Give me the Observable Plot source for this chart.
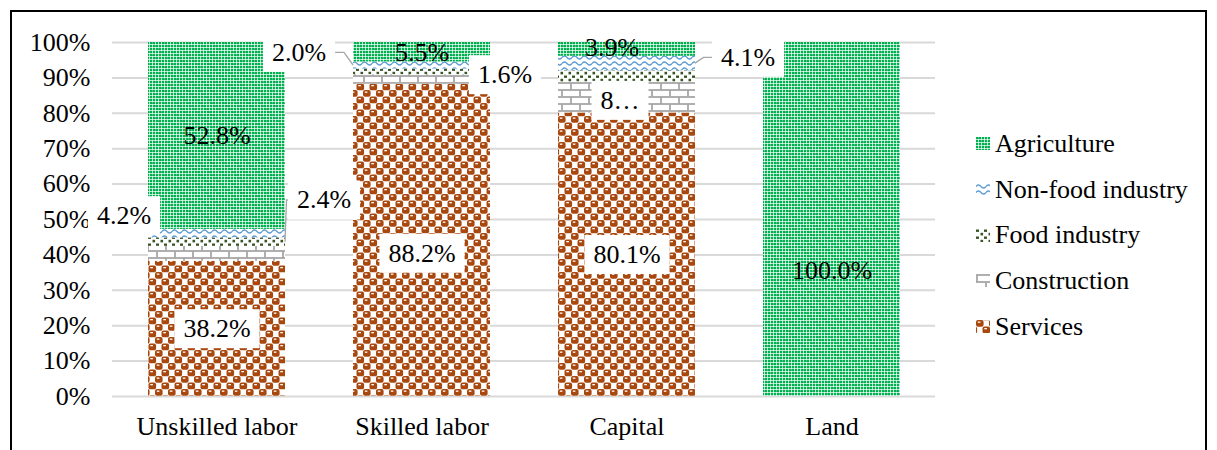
<!DOCTYPE html>
<html>
<head>
<meta charset="utf-8">
<script src="https://cdn.jsdelivr.net/npm/d3@7"></script>
<script src="https://cdn.jsdelivr.net/npm/@observablehq/plot@0.6"></script>
<style>
  html, body { margin: 0; padding: 0; background: #fff; }
  body { font-family: "Liberation Serif", "Tinos", "Times New Roman", "DejaVu Serif", serif; }
  #frame { position: absolute; left: 10px; top: 10px; width: 1193px; height: 446px; border: 2px solid #000; }
  #chart { position: absolute; left: 0; top: 0; }
  #legend { position: absolute; left: 964px; top: 109px; }
  .lg-row { display: flex; align-items: center; height: 45.7px; font-size: 26px; color: #000; white-space: nowrap; }
  .lg-row svg { margin-right: 5px; flex: none; }
</style>
</head>
<body>
<svg width="0" height="0" style="position:absolute">
  <defs>
    <pattern id="pAgri" patternUnits="userSpaceOnUse" width="12" height="12">
      <rect width="12" height="12" fill="#fff"/>
      <g fill="#00B050">
        <rect x="0" y="0" width="2.3" height="2.3"/><rect x="3" y="0" width="2.3" height="2.3"/><rect x="6" y="0" width="2.3" height="2.3"/><rect x="9" y="0" width="2.3" height="2.3"/>
        <rect x="0" y="3" width="2.3" height="2.3"/><rect x="3" y="3" width="2.3" height="2.3"/><rect x="6" y="3" width="2.3" height="2.3"/><rect x="9" y="3" width="2.3" height="2.3"/>
        <rect x="0" y="6" width="2.3" height="2.3"/><rect x="3" y="6" width="2.3" height="2.3"/><rect x="6" y="6" width="2.3" height="2.3"/><rect x="9" y="6" width="2.3" height="2.3"/>
        <rect x="0" y="9" width="2.3" height="2.3"/><rect x="3" y="9" width="2.3" height="2.3"/><rect x="6" y="9" width="2.3" height="2.3"/><rect x="9" y="9" width="2.3" height="2.3"/>
        <rect x="2" y="0.5" width="1.2" height="1.2"/><rect x="8" y="6.5" width="1.2" height="1.2"/>
        <rect x="5" y="3.5" width="1.2" height="1.2"/><rect x="11" y="9.5" width="1.2" height="1.2"/>
      </g>
    </pattern>
    <pattern id="pNonFood" patternUnits="userSpaceOnUse" width="10" height="6">
      <rect width="10" height="6" fill="#fff"/>
      <path d="M0,3.5 Q2.5,0.5 5,3.5 T10,3.5" fill="none" stroke="#5B9BD5" stroke-width="1.3"/>
    </pattern>
    <pattern id="pFood" patternUnits="userSpaceOnUse" width="8" height="7">
      <rect width="8" height="7" fill="#fff"/>
      <g fill="#375623">
        <rect x="0" y="0.5" width="3" height="2.4"/>
        <rect x="4.5" y="3.8" width="2.6" height="2.6"/>
      </g>
    </pattern>
    <pattern id="pCons" patternUnits="userSpaceOnUse" width="18" height="14">
      <rect width="18" height="14" fill="#fff"/>
      <g stroke="#A6A6A6" stroke-width="1.8" fill="none">
        <line x1="0" y1="1" x2="18" y2="1"/>
        <line x1="0" y1="8" x2="18" y2="8"/>
        <line x1="1" y1="1" x2="1" y2="8"/>
        <line x1="10" y1="8" x2="10" y2="14"/>
      </g>
    </pattern>
    <pattern id="pServ" patternUnits="userSpaceOnUse" width="13" height="13">
      <rect width="13" height="13" fill="#fff"/>
      <g fill="#A8470E">
        <rect x="0" y="0" width="7.6" height="6.8" rx="2"/>
        <rect x="6.5" y="6.5" width="7.6" height="6.8" rx="2"/>
        <rect x="-6.5" y="6.5" width="7.6" height="6.8" rx="2"/>
        <rect x="0" y="13" width="7.6" height="6.8" rx="2"/>
        <rect x="6.5" y="-6.5" width="7.6" height="6.8" rx="2"/>
      </g>
      <g fill="#fff">
        <rect x="1.8" y="1.5" width="2.6" height="1.3"/>
        <rect x="8.3" y="8" width="2.6" height="1.3"/>
      </g>
    </pattern>
  </defs>
</svg>
<div id="frame">
  <div id="chart"></div>
  <div id="legend"></div>
</div>
<script>
// ---- data ----
const factors = ["Unskilled labor", "Skilled labor", "Capital", "Land"];
const sectors = ["Services", "Construction", "Food industry", "Non-food industry", "Agriculture"];
const services        = [38.2, 88.2, 80.1, 0];
const construction    = [4.2, 2.7, 8.7, 0];
const foodIndustry    = [2.4, 1.6, 3.2, 0];
const nonFoodIndustry = [2.4, 2.0, 4.1, 0];
const agriculture     = [52.8, 5.5, 3.9, 100.0];
const yTicks = [0, 10, 20, 30, 40, 50, 60, 70, 80, 90, 100];
const legendOrder = ["Agriculture", "Non-food industry", "Food industry", "Construction", "Services"];
// data labels that are shown [factor, sector]
const shownLabels = [
  ["Unskilled labor", "Services"], ["Unskilled labor", "Agriculture"],
  ["Unskilled labor", "Construction"], ["Unskilled labor", "Food industry"],
  ["Skilled labor", "Services"], ["Skilled labor", "Agriculture"],
  ["Skilled labor", "Non-food industry"], ["Skilled labor", "Food industry"],
  ["Capital", "Services"], ["Capital", "Construction"], ["Capital", "Agriculture"],
  ["Capital", "Non-food industry"],
  ["Land", "Agriculture"]
];

// ---- styles (not data) ----
const FONT = "'Liberation Serif', Tinos, 'Times New Roman', 'DejaVu Serif', serif";
const patternOf = {
  "Services": "pServ", "Construction": "pCons", "Food industry": "pFood",
  "Non-food industry": "pNonFood", "Agriculture": "pAgri"
};
const labelStyle = {
  "Unskilled labor|Services": {dx: 0, dy: 0, box: true},
  "Unskilled labor|Agriculture": {dx: 0, dy: 0, box: false},
  "Unskilled labor|Construction": {dx: -93, dy: -38, box: true},
  "Unskilled labor|Food industry": {dx: 107, dy: -42, box: true, leader: true},
  "Skilled labor|Services": {dx: 0, dy: 13, box: true},
  "Skilled labor|Agriculture": {dx: 0, dy: 0, box: false},
  "Skilled labor|Non-food industry": {dx: -123, dy: -13, box: true, leader: true},
  "Skilled labor|Food industry": {dx: 83, dy: 3, box: true},
  "Capital|Services": {dx: 0, dy: 0, box: true},
  "Capital|Construction": {dx: -7, dy: 3, box: true, truncate: true},
  "Capital|Agriculture": {dx: -15, dy: -2, box: false},
  "Capital|Non-food industry": {dx: 121, dy: -6, box: true, leader: true},
  "Land|Agriculture": {dx: 0, dy: 51, box: false}
};

const seriesBySector = {
  "Services": services, "Construction": construction, "Food industry": foodIndustry,
  "Non-food industry": nonFoodIndustry, "Agriculture": agriculture
};
const data = [];
factors.forEach((f, i) => {
  let base = 0;
  sectors.forEach(s => {
    const v = seriesBySector[s][i];
    data.push({factor: f, sector: s, value: v, mid: base + v / 2});
    base += v;
  });
});

const labelInfo = new Map(); // text -> {datum, style}
const labelMarks = shownLabels.map(([f, s]) => {
  const d = data.find(r => r.factor === f && r.sector === s);
  const st = labelStyle[f + "|" + s];
  const txt = st.truncate ? String(d.value)[0] + "\u2026" : d.value.toFixed(1) + "%";
  labelInfo.set(txt, {d, st});
  return Plot.text([d], {
    x: "factor", y: "mid", text: () => txt,
    dx: st.dx, dy: st.dy, fontSize: 26, fill: "#000",
    fontFamily: FONT
  });
});

const chart = Plot.plot({
  width: 1193, height: 438,
  marginLeft: 100, marginRight: 270, marginTop: 30, marginBottom: 54,
  style: {fontFamily: FONT, fontSize: "26px", color: "#000", background: "transparent", overflow: "visible"},
  x: {domain: factors, paddingInner: 0.334, paddingOuter: 0.167, label: null, tickSize: 0, tickPadding: 20},
  y: {domain: [0, 100], ticks: yTicks, tickFormat: d => d + "%", label: null, tickSize: 0, tickPadding: 22},
  color: {domain: sectors, range: sectors.map(s => `url(#${patternOf[s]})`)},
  marks: [
    Plot.ruleY(yTicks, {stroke: "#d9d9d9", strokeWidth: 2}),
    Plot.barY(data, {x: "factor", y: "value", fill: "sector", z: "sector"}),
    ...labelMarks
  ]
});
document.getElementById("chart").appendChild(chart);

const xs = chart.scale("x"), ys = chart.scale("y");
const NS = "http://www.w3.org/2000/svg";
const leaderG = document.createElementNS(NS, "g");
leaderG.setAttribute("fill", "none");
leaderG.setAttribute("stroke", "#A6A6A6");
leaderG.setAttribute("stroke-width", "1.3");
chart.appendChild(leaderG);
const svgRect = chart.getBoundingClientRect();

// white boxes behind boxed labels, plus leader lines for outside labels
chart.querySelectorAll('text').forEach(t => {
  if (t.closest('g[aria-label*="axis"]')) return;
  const info = labelInfo.get(t.textContent);
  if (!info || !info.st.box) return;
  const b = t.getBBox();
  const r = document.createElementNS(NS, "rect");
  const tr = t.getAttribute("transform");
  if (tr) r.setAttribute("transform", tr);
  r.setAttribute("x", b.x - 9);
  r.setAttribute("y", b.y - 5);
  r.setAttribute("width", b.width + 18);
  r.setAttribute("height", b.height + 10);
  r.setAttribute("fill", "#fff");
  t.parentNode.insertBefore(r, t);
  if (info.st.leader) {
    const rb = r.getBoundingClientRect();
    const bx0 = rb.left - svgRect.left, bx1 = rb.right - svgRect.left;
    const by = (rb.top + rb.bottom) / 2 - svgRect.top;
    const barL = xs.apply(info.d.factor), barR = barL + xs.bandwidth;
    const sy = ys.apply(info.d.mid);
    let pts;
    if (bx0 >= barR) { // label right of bar
      const xm = (bx0 + barR) / 2;
      pts = [[bx0, by], [xm, by], [barR, sy]];
    } else { // label left of bar
      const xm = (bx1 + barL) / 2;
      pts = [[bx1, by], [xm, by], [barL, sy]];
    }
    const p = document.createElementNS(NS, "path");
    p.setAttribute("d", "M" + pts.map(q => q.map(v => v.toFixed(1)).join(",")).join("L"));
    leaderG.appendChild(p);
  }
});

// legend
const legend = document.getElementById("legend");
legendOrder.forEach(s => {
  const row = document.createElement("div");
  row.className = "lg-row";
  row.innerHTML = `<svg width="14" height="13"><rect width="14" height="13" fill="url(#${patternOf[s]})"/></svg><span>${s}</span>`;
  legend.appendChild(row);
});
</script>
</body>
</html>
